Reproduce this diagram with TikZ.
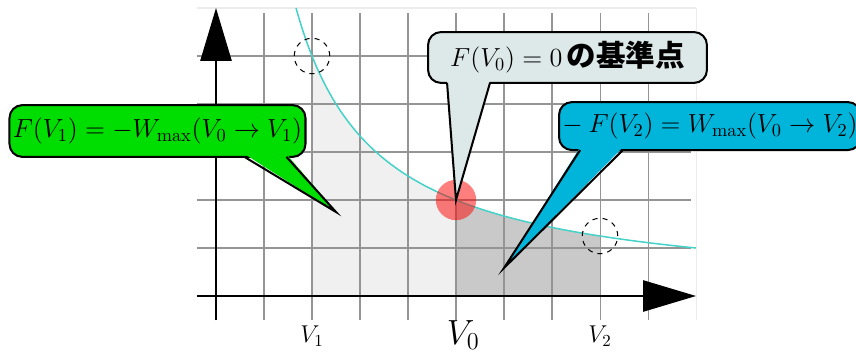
\RequirePackage{fix-cm}
\documentclass[tikz,border=0pt]{standalone}
\usepackage{fontspec}
\newfontfamily\cjk{Noto Sans CJK JP}
\usetikzlibrary{arrows.meta,calc}
\definecolor{curvec}{RGB}{70,210,200}
\definecolor{greenc}{RGB}{0,221,0}
\definecolor{bluec}{RGB}{0,180,218}
\definecolor{grayc}{RGB}{221,232,232}
\tikzset{
  gridline/.style={black!42,line width=0.6pt},
  axisline/.style={line width=1pt,-{Triangle[length=1.1cm,width=0.65cm]}},
  calloutbox/.style={draw=black,line width=1.2pt,rounded corners=0.27cm,outer sep=0pt,inner xsep=2pt,font=\fontsize{15.5}{18}\selectfont},
  pointerline/.style={draw=black,line width=1.2pt,line join=miter},
  dashcirc/.style={draw=black,dashed,line width=0.6pt},
  tick/.style={font=\Large}
}
\begin{document}
\begin{tikzpicture}[x=1cm,y=1cm]
\useasboundingbox (-4.5,-1.2917) rectangle (13.3333,6.1667);
% shaded areas
\fill[gray!12] (2,0) -- plot[domain=2:5,samples=60] (\x,{10/\x}) -- (5,0) -- cycle;
\fill[gray!42] (5,0) -- plot[domain=5:8,samples=60] (\x,{10/\x}) -- (8,0) -- cycle;
% grid
\draw[gridline] (-0.4,-0.5) grid (9.9,5.9);
\draw[gray!15,line width=0.6pt] (-0.4,6) -- (10,6) (10,-0.5) -- (10,6);
% curve
\draw[curvec,line width=0.9pt] plot[domain=1.6667:10,samples=120] (\x,{10/\x});
% marks
\fill[red,opacity=0.5] (5,2) circle (0.42);
\draw[dashcirc] (2,5) circle (0.37);
\draw[dashcirc] (8,1.25) circle (0.37);
% axes
\coordinate (xs) at (-0.4,0);
\coordinate (xe) at (10,0);
\coordinate (ys) at (0,-0.5);
\coordinate (ye) at (0,6);
\draw[axisline] (xs) -- (xe);
\draw[axisline] (ys) -- (ye);
% labels
\node[tick] (v1) at (2,-0.84) {$V_1$};
\node[tick] (v2) at (8,-0.84) {$V_2$};
\node[font=\huge] (v0) at (5.15,-0.82) {$V_0$};
% pointer tips
\coordinate (tg) at (2.5,1.75);
\coordinate (tz) at (5,2);
\coordinate (tb) at (6,0.583);
% green callout
\node[calloutbox,fill=greenc,minimum width=6.15cm,minimum height=1.08cm] (cg) at (-1.219,3.4375)
  {$F(V_1) = -W_{\max}(V_0 \to V_1)$};
\fill[greenc] ($(cg.south west)+(4.896,0.06)$) -- (tg) -- ($(cg.south west)+(5.77,0.06)$) -- cycle;
\draw[pointerline] ($(cg.south west)+(4.896,0)$) -- (tg) -- ($(cg.south west)+(5.77,0)$);
% gray callout
\node[calloutbox,fill=grayc,minimum width=5.81cm,minimum height=1.06cm,inner xsep=6pt] (cz) at (7.323,4.969)
  {$F(V_0) = 0$\,{\cjk\bfseries\fontsize{17.5}{19}\selectfont の基準点}\hspace{0.5em}};
\fill[grayc] ($(cz.south west)+(0.396,0.06)$) -- (tz) -- ($(cz.south west)+(1.29,0.06)$) -- cycle;
\draw[pointerline] ($(cz.south west)+(0.396,0)$) -- (tz) -- ($(cz.south west)+(1.29,0)$);
% blue callout
\node[calloutbox,fill=bluec,minimum width=6.08cm,minimum height=1.0cm] (cb) at (10.29,3.54)
  {$-\mskip\medmuskip F(V_2) = W_{\max}(V_0 \to V_2)$};
\fill[bluec] ($(cb.south west)+(0.44,0.06)$) -- (tb) -- ($(cb.south west)+(1.33,0.06)$) -- cycle;
\draw[pointerline] ($(cb.south west)+(0.44,0)$) -- (tb) -- ($(cb.south west)+(1.33,0)$);
\end{tikzpicture}
\end{document}
